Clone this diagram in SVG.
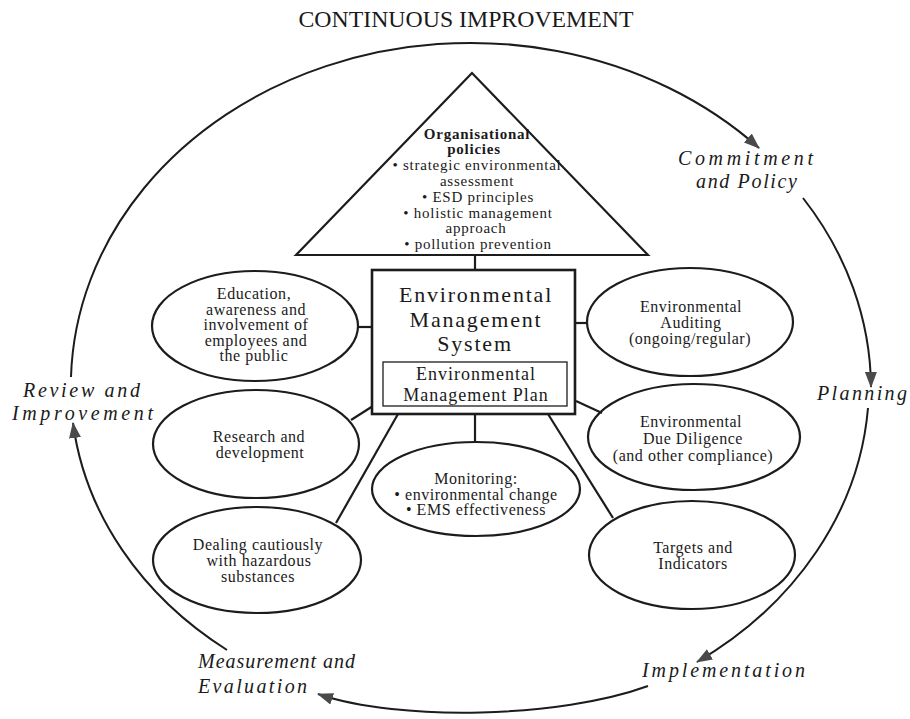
<svg xmlns="http://www.w3.org/2000/svg" width="910" height="719" viewBox="0 0 910 719">
<style>
.bg{fill:#ffffff}
.shape{fill:none;stroke:#1c1c1c;stroke-width:2.2}
.box{fill:#ffffff;stroke:#1c1c1c;stroke-width:2.6}
.inner{fill:#ffffff;stroke:#1c1c1c;stroke-width:1.3}
.conn{fill:none;stroke:#1c1c1c;stroke-width:2.2}
.cyc{fill:none;stroke:#1c1c1c;stroke-width:2}
.t{font-family:"Liberation Serif","Times New Roman",serif;fill:#1a1a1a;text-anchor:middle}
.e{font-size:16px;letter-spacing:0.55px}
.tri{font-size:15px;letter-spacing:0.75px}
.big{font-size:22px;letter-spacing:1.8px}
.mid{font-size:18px;letter-spacing:1px}
.it{font-family:"Liberation Serif","Times New Roman",serif;font-style:italic;font-size:20px;fill:#1a1a1a}
</style>
<defs>
<marker id="ah" markerUnits="userSpaceOnUse" markerWidth="16" markerHeight="12" refX="15" refY="6" orient="auto">
<path d="M0,0 L16,6 L0,12 z" fill="#4a4a4a"/>
</marker>
</defs>
<rect class="bg" x="0" y="0" width="910" height="719"/>

<text id="title" class="t" x="466" y="27" font-size="23" textLength="335" lengthAdjust="spacingAndGlyphs">CONTINUOUS IMPROVEMENT</text>

<g id="connectors">
<g id="cycle">
<path class="cyc" d="M71,377 A400,343 0 0 1 759,148" marker-end="url(#ah)"/>
<path class="cyc" d="M803,198 A400,343 0 0 1 871,387" marker-end="url(#ah)"/>
<path class="cyc" d="M868,408 A398,338 0 0 1 697,662" marker-end="url(#ah)"/>
<path class="cyc" d="M648,686 C560,718 400,722 318,694" marker-end="url(#ah)"/>
<path class="cyc" d="M227,650 A392,330 0 0 1 73,423" marker-end="url(#ah)"/>
</g>
<line class="conn" x1="475" y1="255" x2="475" y2="270"/>
<line class="conn" x1="358" y1="327" x2="372" y2="327"/>
<line class="conn" x1="575" y1="323" x2="587" y2="323"/>
<line class="conn" x1="351" y1="420" x2="373" y2="406"/>
<line class="conn" x1="576" y1="401" x2="602" y2="413"/>
<line class="conn" x1="398" y1="414" x2="336" y2="523"/>
<line class="conn" x1="475" y1="414" x2="475" y2="442"/>
<line class="conn" x1="548" y1="414" x2="613" y2="518"/>
</g>

<g id="policies">
<polygon class="shape" points="472,73 296,255 648,255"/>
<text class="t tri" x="477" y="139" font-weight="bold" letter-spacing="1.6">Organisational</text>
<text class="t tri" x="474" y="154" font-weight="bold" letter-spacing="1.6">policies</text>
<text class="t tri" x="477" y="170">• strategic environmental</text>
<text class="t tri" x="477" y="186">assessment</text>
<text class="t tri" x="478" y="202">• ESD principles</text>
<text class="t tri" x="478" y="217.5">• holistic management</text>
<text class="t tri" x="476" y="233">approach</text>
<text class="t tri" x="478" y="249">• pollution prevention</text>
</g>

<g id="ems">
<rect class="box" x="372" y="270" width="203" height="144"/>
<text class="t big" x="476" y="302">Environmental</text>
<text class="t big" x="476" y="327">Management</text>
<text class="t big" x="475" y="351">System</text>
<rect class="inner" x="383" y="362" width="184" height="44"/>
<text class="t mid" x="476" y="380">Environmental</text>
<text class="t mid" x="476" y="401">Management Plan</text>
</g>

<g id="education">
<ellipse class="shape" cx="255" cy="326" rx="103" ry="55"/>
<text class="t e" x="254" y="299">Education,</text>
<text class="t e" x="256" y="314.5">awareness and</text>
<text class="t e" x="256" y="330">involvement of</text>
<text class="t e" x="256" y="345.5">employees and</text>
<text class="t e" x="254" y="361">the public</text>
</g>

<g id="research">
<ellipse class="shape" cx="256" cy="444" rx="103" ry="54"/>
<text class="t e" x="259" y="442">Research and</text>
<text class="t e" x="260" y="458">development</text>
</g>

<g id="hazardous">
<ellipse class="shape" cx="257" cy="560" rx="104" ry="53"/>
<text class="t e" x="258" y="550">Dealing cautiously</text>
<text class="t e" x="259" y="566">with hazardous</text>
<text class="t e" x="258" y="582">substances</text>
</g>

<g id="monitoring">
<ellipse class="shape" cx="476" cy="489" rx="104" ry="47"/>
<text class="t e" x="476" y="484">Monitoring:</text>
<text class="t e" x="476" y="499.5" letter-spacing="0.35">• environmental change</text>
<text class="t e" x="476" y="515" letter-spacing="0.35">• EMS effectiveness</text>
</g>

<g id="auditing">
<ellipse class="shape" cx="690" cy="322" rx="103" ry="54"/>
<text class="t e" x="691" y="312">Environmental</text>
<text class="t e" x="691" y="328">Auditing</text>
<text class="t e" x="690" y="344">(ongoing/regular)</text>
</g>

<g id="duediligence">
<ellipse class="shape" cx="694" cy="437" rx="106" ry="53"/>
<text class="t e" x="691" y="427">Environmental</text>
<text class="t e" x="693" y="444">Due Diligence</text>
<text class="t e" x="693" y="461">(and other compliance)</text>
</g>

<g id="targets">
<ellipse class="shape" cx="692" cy="555" rx="103" ry="54"/>
<text class="t e" x="693" y="553">Targets and</text>
<text class="t e" x="693" y="569">Indicators</text>
</g>

<g id="commitment">
<text class="it" x="678" y="165" textLength="135" lengthAdjust="spacing">Commitment</text>
<text class="it" x="696" y="188" textLength="101" lengthAdjust="spacing">and Policy</text>
</g>
<g id="planning">
<text class="it" x="817" y="400" textLength="90" lengthAdjust="spacing">Planning</text>
</g>
<g id="implementation">
<text class="it" x="642" y="677" textLength="163" lengthAdjust="spacing">Implementation</text>
</g>
<g id="measurement">
<text class="it" x="198" y="668" textLength="157" lengthAdjust="spacing">Measurement and</text>
<text class="it" x="198" y="693" textLength="109" lengthAdjust="spacing">Evaluation</text>
</g>
<g id="review">
<text class="it" x="23" y="397" textLength="117" lengthAdjust="spacing">Review and</text>
<text class="it" x="12" y="420" textLength="141" lengthAdjust="spacing">Improvement</text>
</g>
</svg>
